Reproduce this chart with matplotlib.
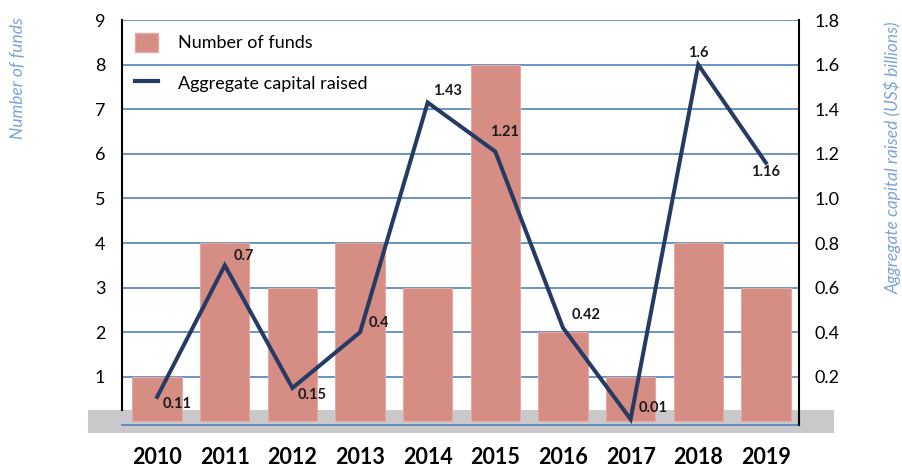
import numpy as np
import matplotlib.pyplot as plt
from matplotlib.patches import Rectangle, Patch
from matplotlib.lines import Line2D

# data
years = ['2010', '2011', '2012', '2013', '2014', '2015', '2016', '2017', '2018', '2019']
num_funds = [1, 4, 3, 4, 3, 8, 2, 1, 4, 3]
capital_raised = [0.11, 0.7, 0.15, 0.4, 1.43, 1.21, 0.42, 0.01, 1.6, 1.16]

left_ticks = [1, 2, 3, 4, 5, 6, 7, 8, 9]
right_ticks = [0.2, 0.4, 0.6, 0.8, 1.0, 1.2, 1.4, 1.6, 1.8]

BAR = '#d58d84'
LINE = '#253b63'
GRID = '#4f82b8'
LABEL = '#7ba4d9'
BAND = '#cac8cb'

plt.rcParams['font.family'] = ['Lato', 'DejaVu Sans']


def main():
    fig = plt.figure(figsize=(9.03, 4.68), dpi=100)
    ax = fig.add_axes([122 / 903, 43 / 468, 677 / 903, 405 / 468])
    ax.set_facecolor('none')

    # grey strip behind the bottom of the chart
    band = Rectangle((88 / 903, 35 / 468), 746 / 903, 23 / 468,
                     transform=fig.transFigure, facecolor=BAND,
                     edgecolor='none', zorder=-1)
    fig.add_artist(band)

    x = np.arange(len(years))
    ax.bar(x, num_funds, width=0.73, color=BAR, edgecolor='#e3aaa3',
           linewidth=0.8, zorder=3, label='Number of funds')
    ax.set_xlim(-0.52, len(years) - 0.51)
    ax.set_ylim(-0.08, 9)
    ax.set_yticks(left_ticks)
    ax.yaxis.grid(True, color=GRID, linewidth=1.2)
    ax.set_axisbelow(True)
    ax.set_xticks(x)
    ax.set_xticklabels(years, fontsize=15.5, fontweight='bold')
    ax.tick_params(axis='x', length=0, pad=16)
    ax.tick_params(axis='y', length=0, pad=12, labelsize=13)

    for s in ['top', 'right']:
        ax.spines[s].set_visible(False)
    ax.spines['left'].set_color('black')
    ax.spines['left'].set_linewidth(1.5)
    ax.spines['left'].set_bounds(0.26, 9)
    ax.spines['bottom'].set_color(GRID)
    ax.spines['bottom'].set_linewidth(1.2)

    ax2 = ax.twinx()
    ax2.plot(x, capital_raised, color=LINE, linewidth=2.9, zorder=4,
             solid_joinstyle='miter')
    ax2.set_ylim(-0.016, 1.8)
    ax2.set_yticks(right_ticks)
    ax2.set_yticklabels(['%.1f' % v for v in right_ticks])
    ax2.tick_params(axis='y', length=0, pad=11, labelsize=13)
    for s in ['top', 'left', 'bottom']:
        ax2.spines[s].set_visible(False)
    ax2.spines['right'].set_color('black')
    ax2.spines['right'].set_linewidth(1.5)

    # value labels, offsets in points (dx, dy, ha)
    offsets = [(4, -5, 'left'), (6, 7, 'left'), (4, -5, 'left'), (6, 7, 'left'),
               (4, 8, 'left'), (-4, 14, 'left'), (6, 9, 'left'), (6, 8, 'left'),
               (0, 8, 'center'), (0, -7, 'center')]
    for xi, v, (dx, dy, ha) in zip(x, capital_raised, offsets):
        ax2.annotate('%g' % v, (xi, v), xytext=(dx, dy), textcoords='offset points',
                     ha=ha, va='center', fontsize=10.5, fontweight='bold',
                     color='#1a1a1a', zorder=5)

    handles = [Patch(facecolor=BAR, edgecolor='#e3aaa3'),
               Line2D([0], [0], color=LINE, linewidth=3)]
    ax.legend(handles, ['Number of funds', 'Aggregate capital raised'],
              loc='upper left', bbox_to_anchor=(13 / 677, 1 - 13 / 405),
              frameon=False, fontsize=13, borderpad=0, borderaxespad=0,
              handlelength=1.3, handleheight=1.2, handletextpad=1.1,
              labelspacing=1.2)

    fig.text(18 / 903, 1 - 78 / 468, 'Number of funds', rotation=90,
             ha='center', va='center', style='italic', color=LABEL, fontsize=12.5)
    fig.text(893 / 903, 1 - 158 / 468, 'Aggregate capital raised (US$ billions)',
             rotation=90, ha='center', va='center', style='italic',
             color=LABEL, fontsize=12.5)

    fig.savefig('out.png', dpi=100)


if __name__ == '__main__':
    main()
